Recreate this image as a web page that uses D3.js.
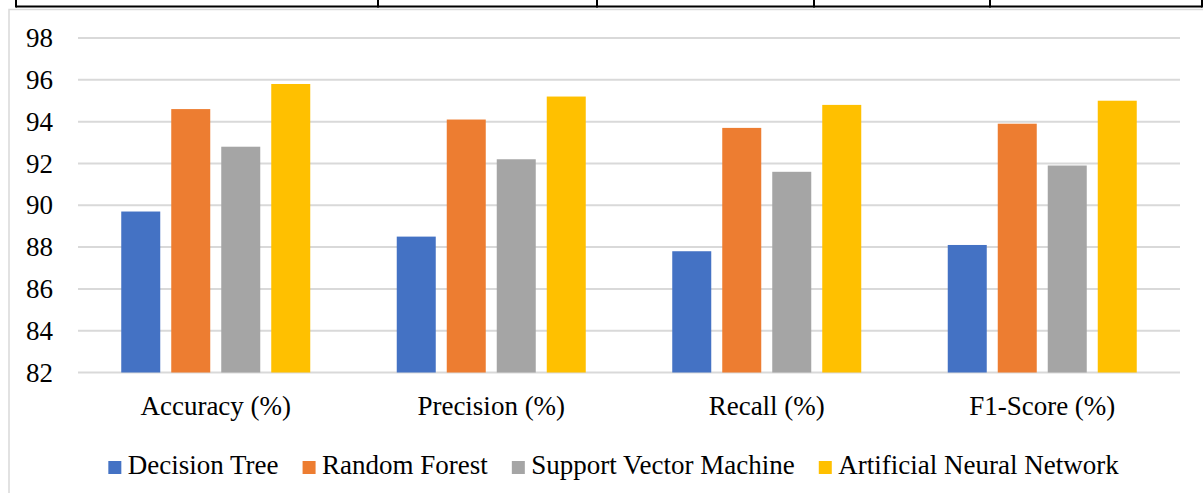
<!DOCTYPE html>
<html>
<head>
<meta charset="utf-8">
<script src="https://cdn.jsdelivr.net/npm/d3@7"></script>
<style>
  html, body { margin: 0; padding: 0; background: #ffffff; }
  svg { display: block; }
  svg text { font-family: 'Liberation Serif', Tinos, 'Times New Roman', Times, 'DejaVu Serif', 'Noto Serif', serif !important; fill: #000; }
</style>
</head>
<body>
<svg id="chart" width="1203" height="493"></svg>
<script>
const categories = ["Accuracy (%)", "Precision (%)", "Recall (%)", "F1-Score (%)"];
const seriesNames = ["Decision Tree", "Random Forest", "Support Vector Machine", "Artificial Neural Network"];
const decisionTree = [89.7, 88.5, 87.8, 88.1];
const randomForest = [94.6, 94.1, 93.7, 93.9];
const svmValues = [92.8, 92.2, 91.6, 91.9];
const annValues = [95.8, 95.2, 94.8, 95.0];
const yTicks = [82, 84, 86, 88, 90, 92, 94, 96, 98];
const colors = ["#4472C4", "#ED7D31", "#A5A5A5", "#FFC000"];

const seriesValues = [decisionTree, randomForest, svmValues, annValues];
const FONT = "'Liberation Serif', Tinos, 'Times New Roman', Times, 'DejaVu Serif', serif";

const svg = d3.select("#chart");

// table row border above the chart
const tableCols = [16, 378, 597, 814, 990, 1202];
svg.append("line").attr("x1", 16).attr("x2", 1202).attr("y1", 6.5).attr("y2", 6.5)
  .attr("stroke", "#000").attr("stroke-width", 2);
tableCols.forEach(x => {
  svg.append("line").attr("x1", x).attr("x2", x).attr("y1", 0).attr("y2", 7.5)
    .attr("stroke", "#000").attr("stroke-width", 2);
});

// chart area border
svg.append("rect").attr("x", 9).attr("y", 9.5).attr("width", 1250).attr("height", 600)
  .attr("fill", "none").attr("stroke", "#d9d9d9").attr("stroke-width", 1.5);

const y = d3.scaleLinear().domain([82, 98]).range([372.5, 38]);
const x0 = d3.scaleBand().domain(categories).range([78, 1180]).paddingInner(0).paddingOuter(0);
const x1 = d3.scaleBand().domain(seriesNames).range([0, x0.bandwidth()]).paddingInner(0.22).paddingOuter(0.865);

// gridlines
svg.append("g").selectAll("line").data(yTicks).join("line")
  .attr("x1", 78).attr("x2", 1180)
  .attr("y1", d => y(d)).attr("y2", d => y(d))
  .attr("stroke", "#d9d9d9").attr("stroke-width", 2);

// y axis labels
const yAxis = d3.axisLeft(y).tickValues(yTicks).tickSize(0).tickPadding(0).tickFormat(d3.format("d"));
const yg = svg.append("g").attr("transform", "translate(53,0)").call(yAxis);
yg.attr("font-family", FONT).attr("font-size", 27);
yg.select(".domain").remove();
yg.selectAll("text").style("font-family", FONT).style("font-size", "27px").attr("fill", "#000");

// bars
const groups = svg.append("g").selectAll("g").data(categories).join("g")
  .attr("transform", c => `translate(${x0(c)},0)`);
groups.selectAll("rect").data((c, ci) => seriesNames.map((s, si) => ({ s, si, v: seriesValues[si][ci] })))
  .join("rect")
  .attr("x", d => x1(d.s))
  .attr("width", x1.bandwidth())
  .attr("y", d => y(d.v))
  .attr("height", d => y(82) - y(d.v))
  .attr("fill", d => colors[d.si]);

// x axis labels
const xAxis = d3.axisBottom(x0).tickSize(0).tickPadding(0);
const xg = svg.append("g").attr("transform", "translate(0,372.5)").call(xAxis);
xg.attr("font-family", FONT).attr("font-size", 27);
xg.select(".domain").remove();
xg.selectAll("text").style("font-family", FONT).style("font-size", "27px")
  .attr("fill", "#000").attr("dy", null).attr("y", 42.5);

// legend
const legend = svg.append("g");
const items = legend.selectAll("g").data(seriesNames).join("g");
items.append("rect").attr("width", 13).attr("height", 13).attr("y", 461).attr("fill", (d, i) => colors[i]);
items.append("text").attr("x", 19.5).attr("y", 474)
  .style("font-family", FONT).style("font-size", "27px").text(d => d);
let cx = 0;
const positions = [];
items.each(function(d) {
  positions.push(cx);
  const w = d3.select(this).select("text").node().getComputedTextLength();
  cx += 19.5 + w + 24;
});
const total = cx - 24;
const startX = 613.5 - total / 2;
items.attr("transform", (d, i) => `translate(${startX + positions[i]},0)`);
</script>
</body>
</html>
